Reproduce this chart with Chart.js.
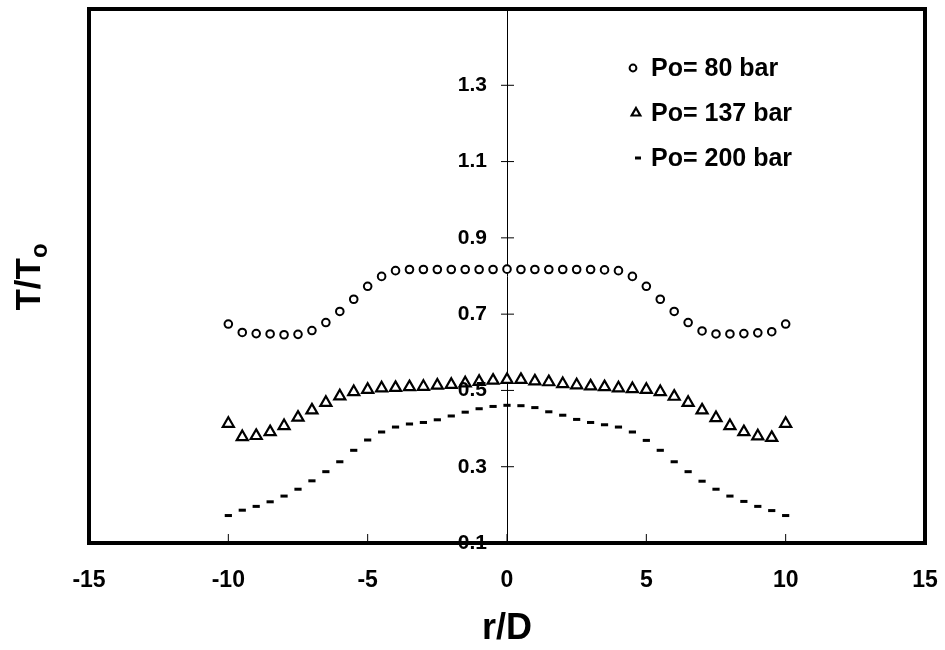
<!DOCTYPE html>
<html>
<head>
<meta charset="utf-8">
<script src="https://cdn.jsdelivr.net/npm/chart.js@4.4.1/dist/chart.umd.min.js"></script>
<style>
html,body{margin:0;padding:0;background:#fff;}
#contgrap{width:945px;height:650px;}
</style>
</head>
<body>
<div id="contgrap"><canvas id="grafica"></canvas></div>
<script>
// r/D
var rD=[-10,-9.5,-9,-8.5,-8,-7.5,-7,-6.5,-6,-5.5,-5,-4.5,-4,-3.5,-3,-2.5,-2,-1.5,-1,-0.5,0,
	0.5,1,1.5,2,2.5,3,3.5,4,4.5,5,5.5,6,6.5,7,7.5,8,8.5,9,9.5,10];
// T/To
var po80=[0.674,0.652,0.649,0.648,0.646,0.647,0.657,0.678,0.707,0.739,0.773,0.799,0.814,0.817,0.817,0.817,0.817,0.817,0.817,0.817,0.818,
	0.817,0.817,0.817,0.817,0.817,0.817,0.816,0.814,0.799,0.773,0.739,0.707,0.678,0.656,0.648,0.648,0.649,0.651,0.654,0.674];
var po137=[0.413,0.378,0.381,0.391,0.407,0.429,0.448,0.468,0.485,0.496,0.502,0.506,0.507,0.509,0.510,0.513,0.515,0.519,0.523,0.526,0.528,
	0.528,0.524,0.522,0.517,0.514,0.511,0.509,0.506,0.504,0.502,0.496,0.484,0.468,0.448,0.428,0.407,0.391,0.380,0.376,0.413];
var po200=[0.172,0.186,0.196,0.208,0.223,0.241,0.263,0.287,0.313,0.343,0.370,0.391,0.404,0.412,0.416,0.423,0.433,0.443,0.452,0.458,0.461,
	0.460,0.455,0.444,0.435,0.424,0.416,0.410,0.404,0.391,0.369,0.343,0.313,0.287,0.262,0.241,0.223,0.209,0.196,0.185,0.172];
var etiquetas=["Po= 80 bar","Po= 137 bar","Po= 200 bar"];
var xTicks=[-15,-10,-5,0,5,10,15];
var yTicks=[0.1,0.3,0.5,0.7,0.9,1.1,1.3];

var fuente="'Liberation Sans', Arial, sans-serif";
Chart.defaults.font.family=fuente;
Chart.defaults.color="#000";

function puntos(serie){
	return rD.map(function(x,i){ return {x:x,y:serie[i]}; });
}
function sinRelleno(scale){
	scale.paddingLeft=0; scale.paddingRight=0;
	scale.paddingTop=0; scale.paddingBottom=0;
}

// marco grueso, marcas y etiquetas del eje Y, titulo Y con subindice y leyenda
var extras={
	id:"extras",
	afterDraw:function(chart){
		var ctx=chart.ctx, a=chart.chartArea;
		var sx=chart.scales.x, sy=chart.scales.y;
		var x0=sx.getPixelForValue(0);
		ctx.save();
		ctx.strokeStyle="#000";
		ctx.fillStyle="#000";
		ctx.lineWidth=1;
		xTicks.forEach(function(v){
			if(v<=-15||v>=15) return;
			var px=sx.getPixelForValue(v);
			ctx.beginPath(); ctx.moveTo(px,a.bottom); ctx.lineTo(px,a.bottom-9); ctx.stroke();
		});
		ctx.font="bold 21px "+fuente;
		ctx.textAlign="right";
		ctx.textBaseline="middle";
		yTicks.forEach(function(v){
			var py=sy.getPixelForValue(v);
			ctx.beginPath(); ctx.moveTo(x0-6,py); ctx.lineTo(x0+7,py); ctx.stroke();
			ctx.fillText(v.toFixed(1),x0-20,py);
		});
		ctx.lineWidth=4;
		ctx.strokeRect(a.left,a.top,a.right-a.left,a.bottom-a.top);

		// titulo eje Y: T/To
		ctx.translate(30,277);
		ctx.rotate(-Math.PI/2);
		ctx.textAlign="left";
		ctx.font="bold 35px "+fuente;
		var w1=ctx.measureText("T/T").width;
		ctx.font="bold 24px "+fuente;
		var w2=ctx.measureText("o").width;
		var ini=-(w1+w2)/2;
		ctx.font="bold 35px "+fuente;
		ctx.fillText("T/T",ini,0);
		ctx.font="bold 24px "+fuente;
		ctx.fillText("o",ini+w1,10);
		ctx.restore();

		// leyenda
		ctx.save();
		ctx.font="bold 25px "+fuente;
		ctx.textBaseline="middle";
		chart.data.datasets.forEach(function(ds,i){
			var y=68+i*45;
			ctx.fillStyle=ds.backgroundColor;
			ctx.strokeStyle="#000";
			ctx.lineWidth=ds.borderWidth;
			Chart.helpers.drawPoint(ctx,{
				pointStyle:ds.pointStyle,
				radius:ds.leyendaRadio,
				borderWidth:ds.borderWidth,
				rotation:0
			},ds.leyendaX,y);
			ctx.fillStyle="#000";
			ctx.fillText(etiquetas[i],651,y+1);
		});
		ctx.restore();
	}
};

new Chart(document.getElementById("grafica"),{
	type:"scatter",
	data:{
		datasets:[{
			label:etiquetas[0],
			data:puntos(po80),
			pointStyle:"circle",
			pointRadius:3.8,
			borderWidth:2,
			borderColor:"#000",
			backgroundColor:"#fff",
			leyendaRadio:3.4,
			leyendaX:633
		},{
			label:etiquetas[1],
			data:puntos(po137),
			pointStyle:"triangle",
			pointRadius:6.4,
			borderWidth:2.2,
			borderColor:"#000",
			backgroundColor:"#fff",
			leyendaRadio:5,
			leyendaX:636
		},{
			label:etiquetas[2],
			data:puntos(po200),
			pointStyle:"line",
			pointRadius:3.6,
			borderWidth:3,
			borderColor:"#000",
			backgroundColor:"#000",
			leyendaRadio:3,
			leyendaX:638
		}]
	},
	options:{
		responsive:true,
		maintainAspectRatio:false,
		animation:false,
		events:[],
		layout:{padding:{left:89,right:20,top:9,bottom:3}},
		plugins:{legend:{display:false},tooltip:{enabled:false}},
		scales:{
			x:{
				type:"linear",
				min:-15,max:15,
				grid:{display:false},
				border:{display:false},
				ticks:{stepSize:5,padding:16,color:"#000",font:{size:23,weight:"bold"},
					callback:function(v){ return String(v); }},
				title:{display:true,text:"r/D",color:"#000",font:{size:36,weight:"bold",lineHeight:1},padding:0},
				afterFit:function(scale){ sinRelleno(scale); scale.height=104; }
			},
			y:{
				type:"linear",
				position:{x:0},
				min:0.1,max:1.5,
				grid:{display:false},
				border:{display:true,color:"#000",width:1},
				ticks:{display:false,stepSize:0.2},
				afterFit:sinRelleno
			}
		}
	},
	plugins:[extras]
});
</script>
</body>
</html>
